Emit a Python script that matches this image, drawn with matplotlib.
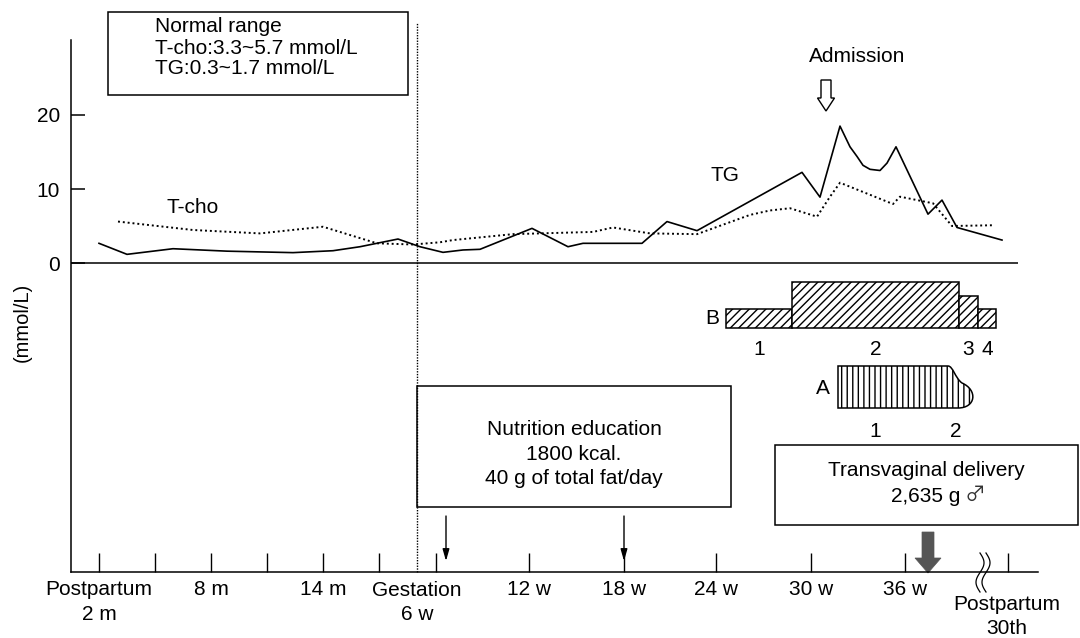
import matplotlib
matplotlib.use("Agg")
import matplotlib.pyplot as plt
from matplotlib.patches import Rectangle, PathPatch, FancyArrow
from matplotlib.path import Path
import numpy as np

plt.rcParams['font.family'] = ['Liberation Sans', 'DejaVu Sans']
plt.rcParams['hatch.linewidth'] = 1.0

# ---------------- data ----------------
# timeline positions (course of months before pregnancy, then gestational weeks)
tick_pos = [99, 155, 211, 267, 323, 379, 436, 529, 624, 716, 811, 905, 1008]
tick_labels = ["Postpartum\n2 m", "", "8 m", "", "14 m", "", "",
               "12 w", "18 w", "24 w", "30 w", "36 w", ""]

# triglycerides (mmol/L)
tg_t = [99, 127, 173, 227, 293, 333, 360, 398, 420, 443, 463, 480, 532, 568,
        583, 642, 667, 697, 802, 820, 840, 850, 857, 863, 870, 880, 887, 896,
        928, 942, 957, 1002]
tg_v = [2.66, 1.17, 1.93, 1.6, 1.4, 1.66, 2.2, 3.24, 2.2, 1.44, 1.76, 1.85,
        4.68, 2.2, 2.66, 2.66, 5.6, 4.37, 12.25, 8.9, 18.5, 15.7, 14.4, 13.2,
        12.66, 12.5, 13.5, 15.7, 6.6, 8.5, 4.8, 3.1]

# total cholesterol (mmol/L)
tcho_t = [118, 193, 260, 323, 377, 413, 440, 453, 513, 593, 613, 650, 697,
          750, 770, 790, 817, 830, 840, 893, 900, 933, 952, 993]
tcho_v = [5.6, 4.46, 4.0, 4.9, 2.66, 2.5, 2.8, 3.1, 3.9, 4.2, 4.8, 4.0, 3.9,
          6.5, 7.1, 7.4, 6.26, 8.96, 10.85, 7.97, 8.96, 8.07, 5.0, 5.1]

# treatment B: dose periods 1-4
b_start = [726, 792, 959, 978]
b_end = [792, 959, 978, 996]
b_dose = [1.0, 2.42, 1.68, 1.0]
b_labels = ["1", "2", "3", "4"]

# treatment A: period 1 full dose, period 2 tapering off
a_start, a_switch, a_end = 838, 948, 975

gestation_start = 417
admission_t = 826
delivery_t = 928
education_t = [446, 624]

# ---------------- figure ----------------
W, H = 1080, 638
fig = plt.figure(figsize=(W / 100, H / 100), dpi=100)
ax = fig.add_axes([0, 0, 1, 1])
PX = 7.4        # pixels per mmol/L
ZERO = 263      # pixel row of 0 mmol/L


def row(py):
    return (ZERO - py) / PX


ax.set_xlim(0, W)
ax.set_ylim(row(H), row(0))

axis_left, axis_right = 71, 1038
axis_bottom, axis_top = row(572), row(40)

for s in ("top", "right"):
    ax.spines[s].set_visible(False)
ax.spines["left"].set_position(("data", axis_left))
ax.spines["left"].set_bounds(axis_bottom, axis_top)
ax.spines["bottom"].set_position(("data", axis_bottom))
ax.spines["bottom"].set_bounds(axis_left, axis_right)
for s in ("left", "bottom"):
    ax.spines[s].set_linewidth(1.1)

ax.set_yticks([0, 10, 20])
ax.set_yticklabels(["0", "10", "20"])
ax.tick_params(axis="y", direction="in", length=10, width=1.1, pad=8,
               labelsize=15)
ax.set_xticks(tick_pos)
ax.set_xticklabels(tick_labels, linespacing=1.35)
ax.tick_params(axis="x", direction="in", length=13.5, width=1.0, pad=6,
               labelsize=15)

ax.text(gestation_start, row(581), "Gestation\n6 w", ha="center", va="top",
        fontsize=15, linespacing=1.35)
ax.text(1007, row(595), "Postpartum\n30th", ha="center", va="top",
        fontsize=15, linespacing=1.3)

ax.text(22, row(322), "(mmol/L)", rotation=90, ha="center", va="center",
        fontsize=14.5)

# zero line
ax.hlines(0, axis_left, 1018, color="black", lw=1.1)

# gestation onset
ax.vlines(gestation_start, axis_bottom, row(22), color="black", lw=1.0,
          linestyles=[(0, (1, 1))])

# series
ax.plot(tg_t, tg_v, color="black", lw=1.2)
ax.plot(tcho_t, tcho_v, color="black", lw=1.4, linestyle=(0, (1, 1.5)))
ax.text(193, row(207), "T-cho", ha="center", va="center", fontsize=15)
ax.text(725, row(175), "TG", ha="center", va="center", fontsize=15)

# normal range box
ax.add_patch(Rectangle((108, row(95)), 300, row(12) - row(95), fill=False,
                       ec="black", lw=1.1))
for txt, py in zip(["Normal range", "T-cho:3.3~5.7 mmol/L",
                    "TG:0.3~1.7 mmol/L"], [27, 48, 68]):
    ax.text(155, row(py), txt, ha="left", va="center", fontsize=15)

# admission
ax.text(857, row(57), "Admission", ha="center", va="center", fontsize=15)
ax.add_patch(FancyArrow(admission_t, row(80), 0, row(111) - row(80),
                        width=10, head_width=17, head_length=13 / PX,
                        length_includes_head=True, fc="white", ec="black",
                        lw=1.0))

# treatment B bars
b_base = row(328)
b_unit = 19 / PX
ax.bar(b_start, [d * b_unit for d in b_dose],
       width=[e - s for s, e in zip(b_start, b_end)], bottom=b_base,
       align="edge", facecolor="white", edgecolor="black", lw=1.1,
       hatch="////")
ax.text(712, row(318), "B", ha="center", va="center", fontsize=15)
for s, e, lab in zip(b_start, b_end, b_labels):
    ax.text((s + e) / 2, row(349), lab, ha="center", va="center", fontsize=15)

# treatment A shape
ya0, ya1 = row(408), row(366)
verts = [(a_start, ya0), (a_start, ya1), (a_switch, ya1),
         (a_switch + 5, ya1), (a_switch + 7, row(378)), (a_switch + 14, row(383)),
         (a_end + 3, row(390)), (a_end + 1, ya0), (a_switch + 10, ya0),
         (a_start, ya0), (a_start, ya0)]
codes = [Path.MOVETO, Path.LINETO, Path.LINETO,
         Path.CURVE4, Path.CURVE4, Path.CURVE4,
         Path.CURVE4, Path.CURVE4, Path.CURVE4,
         Path.LINETO, Path.CLOSEPOLY]
ax.add_patch(PathPatch(Path(verts, codes), facecolor="white",
                       edgecolor="black", lw=1.1, hatch="|||"))
ax.text(823, row(388), "A", ha="center", va="center", fontsize=15)
ax.text(875, row(431), "1", ha="center", va="center", fontsize=15)
ax.text(956, row(431), "2", ha="center", va="center", fontsize=15)

# nutrition education box
ax.add_patch(Rectangle((417, row(507)), 731 - 417, row(386) - row(507),
                       fill=False, ec="black", lw=1.1))
for txt, py in zip(["Nutrition education", "1800 kcal.",
                    "40 g of total fat/day"], [429, 454, 478]):
    ax.text(574, row(py), txt, ha="center", va="center", fontsize=15)
for t in education_t:
    ax.annotate("", xy=(t, row(561)), xytext=(t, row(516)),
                arrowprops=dict(arrowstyle="-|>,head_length=0.7,head_width=0.2",
                                color="black", lw=1.0, mutation_scale=10,
                                shrinkA=0, shrinkB=0))

# delivery box
ax.add_patch(Rectangle((775, row(525)), 1078 - 775, row(445) - row(525),
                       fill=False, ec="black", lw=1.1))
ax.text(926, row(470), "Transvaginal delivery", ha="center", va="center",
        fontsize=15)
ax.text(960, row(496), "2,635 g", ha="right", va="center", fontsize=15)
ax.text(965, row(495), "\u2642", ha="left", va="center", fontsize=15,
        color="#333333", family=["Noto Sans CJK JP", "DejaVu Sans"])
ax.add_patch(FancyArrow(delivery_t, row(532), 0, row(573) - row(532),
                        width=12, head_width=26, head_length=15 / PX,
                        length_includes_head=True, fc="#555555",
                        ec="#555555", lw=0.5))

# axis break mark
tt = np.linspace(0, 1, 60)
for dx in (-3, 3):
    ax.plot(983 + dx + 4 * np.sin(2 * np.pi * tt),
            row(553) + (row(592) - row(553)) * tt, color="black", lw=0.9)

fig.savefig("out.png", dpi=100, facecolor="white")
